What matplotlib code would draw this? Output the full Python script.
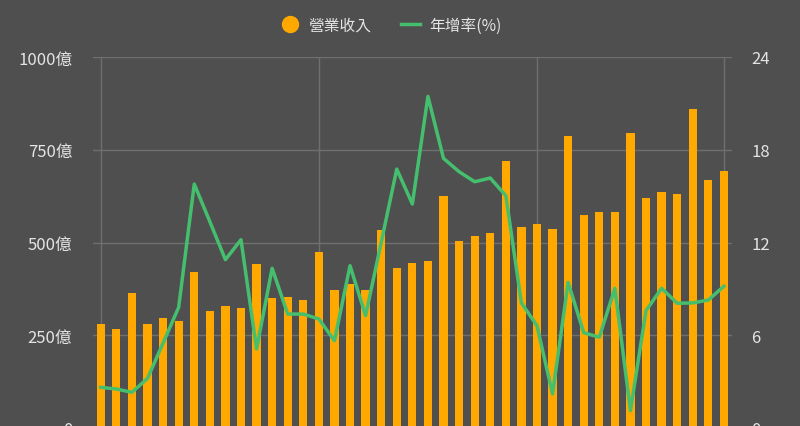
import numpy as np
import matplotlib.pyplot as plt
from matplotlib.lines import Line2D

plt.rcParams['font.family'] = ['Noto Sans CJK TC', 'DejaVu Sans']

# 營業收入 (億) and 年增率 (%)
revenue = [280, 267, 364, 280, 296, 288, 421, 316, 328, 324,
           443, 350, 353, 346, 475, 371, 388, 372, 533, 431,
           446, 449, 626, 504, 518, 525, 720, 543, 551, 536,
           788, 575, 582, 582, 795, 619, 637, 630, 860, 669,
           694]
growth = [2.63, 2.52, 2.31, 3.21, 5.5, 7.81, 15.78, 13.35, 10.89, 12.18,
          5.11, 10.33, 7.37, 7.37, 7.05, 5.65, 10.5, 7.27, 12.0, 16.75,
          14.49, 21.45, 17.44, 16.58, 15.93, 16.17, 15.03, 8.09, 6.62, 2.2,
          9.42, 6.17, 5.87, 9.04, 1.12, 7.59, 9.04, 8.07, 8.09, 8.28,
          9.17]
left_ticks = [0, 250, 500, 750, 1000]
left_labels = ['0', '250億', '500億', '750億', '1000億']
right_ticks = [0, 6, 12, 18, 24]
vgrid = [0, 14, 28, 40]

bg = '#4f4f4f'
fg = '#e4e4e4'
grid_c = '#6f6f6f'
orange = '#ffa800'
green = '#45bf6e'

x = np.arange(len(revenue))

fig = plt.figure(figsize=(8, 4.27), dpi=100, facecolor=bg)
ax = fig.add_axes([93 / 800, -2 / 427, 638.7 / 800, 371 / 427])
ax.set_facecolor(bg)
ax.bar(x, revenue, width=0.53, color=orange, zorder=2)
ax.set_xlim(-0.5, len(revenue) - 0.5)
ax.set_ylim(0, 1000)
ax.set_yticks(left_ticks)
ax.set_yticklabels(left_labels)
ax.set_xticks(vgrid)
ax.set_xticklabels([])
ax.set_axisbelow(True)
ax.grid(True, color=grid_c, linewidth=1)
ax.tick_params(length=0, colors=fg, labelsize=12)
ax.tick_params(axis='y', pad=15)
for s in ax.spines.values():
    s.set_visible(False)

ax2 = ax.twinx()
ax2.plot(x, growth, color=green, linewidth=2.5, zorder=3)
ax2.set_ylim(0, 24)
ax2.set_yticks(right_ticks)
ax2.tick_params(length=0, colors=fg, labelsize=12, pad=14)
for s in ax2.spines.values():
    s.set_visible(False)

handles = [Line2D([], [], marker='o', ls='', color=orange, markersize=11.5),
           Line2D([], [], color=green, linewidth=2.5)]
fig.legend(handles, ['營業收入', '年增率(%)'], loc='center',
           bbox_to_anchor=(391 / 800, 1 - 26 / 427), ncol=2, frameon=False,
           fontsize=11.3, labelcolor=fg, handlelength=1.2,
           handletextpad=0.6, columnspacing=1.9)

fig.savefig('out.png', dpi=100, facecolor=bg)
